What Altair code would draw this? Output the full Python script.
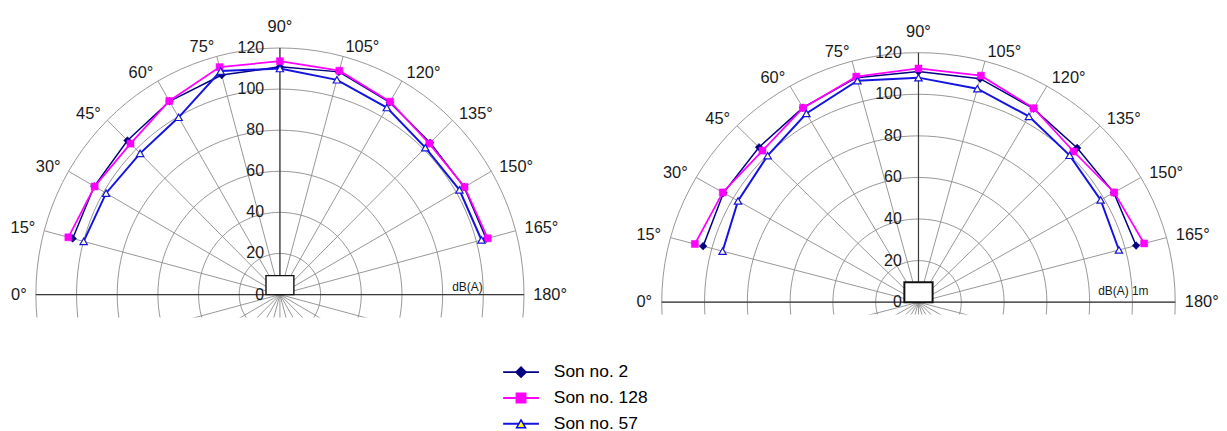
import altair as alt
import pandas as pd

# ---------------- data ----------------
angles = [15, 30, 45, 60, 75, 90, 105, 120, 135, 150, 165]
series_names = ["Son no. 2", "Son no. 128", "Son no. 57"]
series_colors = ["#000080", "#FF00FF", "#1414E0"]
legend_colors = ["#000080", "#FF00FF", "#0000FF"]

left_son2 = [105.5, 105.4, 106.0, 108.6, 110.6, 110.9, 112.2, 108.0, 104.5, 104.6, 105.0]
left_son128 = [107.7, 105.2, 103.9, 108.8, 114.6, 113.6, 112.8, 108.4, 103.9, 104.8, 105.8]
left_son57 = [99.9, 98.7, 97.2, 99.6, 112.6, 110.0, 108.2, 105.1, 101.1, 101.9, 102.6]

right_son2 = [104.2, 105.2, 105.4, 108.0, 111.8, 110.9, 111.3, 107.5, 104.9, 105.4, 105.3]
right_son128 = [108.2, 105.6, 103.1, 107.9, 112.3, 112.4, 112.8, 107.7, 102.5, 105.6, 109.2]
right_son57 = [94.8, 97.4, 99.7, 104.8, 110.3, 108.0, 106.3, 103.2, 99.9, 98.3, 97.0]

ring_values = [20, 40, 60, 80, 100, 120]
spoke_angles = list(range(0, 360, 15))
axis_angles = [0, 90, 180]
angle_ticks = list(range(0, 181, 15))
radial_ticks = [0, 20, 40, 60, 80, 100, 120]
ring_sample_angles = list(range(0, 361, 3))
unit_texts = ["dB(A)", "dB(A) 1m"]
box_half_widths = [6.85, 6.6]
box_heights = [9.2, 9.6]
legend_rows = [0, 1, 2]

FONT = "Liberation Sans"
TXT = "#1a1a1a"
GRID = "#8c8c8c"


def polar(chart, r, a):
    return chart.transform_calculate(
        x=f"-({r}) * cos(({a}) * PI / 180)",
        y=f"({r}) * sin(({a}) * PI / 180)",
    )


def panel(vals, xdom, ydom, w, h, unit_text, unit_x, unit_y, bhw, bh, box_sw):
    xs = alt.Scale(domain=xdom, nice=False, zero=False)
    ys = alt.Scale(domain=ydom, nice=False, zero=False)

    def X(f="x"):
        return alt.X(f"{f}:Q", scale=xs, axis=None)

    def Y(f="y"):
        return alt.Y(f"{f}:Q", scale=ys, axis=None)

    rings = pd.DataFrame(
        [{"ring": r, "t": t} for r in ring_values for t in ring_sample_angles]
    )
    ring_layer = polar(alt.Chart(rings), "datum.ring", "datum.t").mark_line(
        stroke=GRID, strokeWidth=0.9, clip=True
    ).encode(x=X(), y=Y(), detail="ring:N", order="t:Q")

    spokes = pd.DataFrame({"a": spoke_angles})
    spoke_layer = (
        alt.Chart(spokes)
        .transform_calculate(
            x0="0", y0="0",
            x="-120 * cos(datum.a * PI / 180)",
            y="120 * sin(datum.a * PI / 180)",
        )
        .mark_rule(stroke=GRID, strokeWidth=0.9, clip=True)
        .encode(x=X("x0"), y=Y("y0"), x2="x:Q", y2="y:Q")
    )

    axes = pd.DataFrame({"a": axis_angles})
    axis_layer = (
        alt.Chart(axes)
        .transform_calculate(
            x0="0", y0="0",
            x="-120 * cos(datum.a * PI / 180)",
            y="120 * sin(datum.a * PI / 180)",
        )
        .mark_rule(stroke="#3a3a3a", strokeWidth=1.2, clip=True)
        .encode(x=X("x0"), y=Y("y0"), x2="x:Q", y2="y:Q")
    )

    box = pd.DataFrame({"hw": [bhw], "h": [bh]})
    box_layer = (
        alt.Chart(box)
        .transform_calculate(x="-datum.hw", x2="datum.hw", y="0", y2="datum.h")
        .mark_rect(fill="white", stroke="#111111", strokeWidth=box_sw)
        .encode(x=X("x"), x2="x2:Q", y=Y("y"), y2="y2:Q")
    )

    rows = []
    for name, v in zip(series_names, vals):
        for a, val in zip(angles, v):
            rows.append({"series": name, "angle": a, "value": val})
    sdf = pd.DataFrame(rows)
    base = polar(alt.Chart(sdf), "datum.value", "datum.angle")

    line_layer = base.mark_line().encode(
        x=X(), y=Y(),
        color=alt.Color("series:N", scale=alt.Scale(domain=series_names, range=series_colors), legend=None),
        strokeWidth=alt.StrokeWidth("series:N", scale=alt.Scale(domain=series_names, range=[1.5, 2.0, 1.4]), legend=None),
        order="angle:Q",
    )
    pts2 = base.transform_filter(alt.datum.series == series_names[0]).mark_point(
        shape="diamond", size=60, filled=True, fill="#000080", stroke="#000080", strokeWidth=0.5, opacity=1
    ).encode(x=X(), y=Y())
    pts128 = base.transform_filter(alt.datum.series == series_names[1]).mark_point(
        shape="square", size=50, filled=True, fill="#FF00FF", stroke="#FF00FF", strokeWidth=0.5, opacity=1
    ).encode(x=X(), y=Y())
    pts57 = base.transform_filter(alt.datum.series == series_names[2]).mark_point(
        shape="triangle-up", size=55, filled=True, fill="#FFFFCC", stroke="#1414E0", strokeWidth=1.2, opacity=1
    ).encode(x=X(), y=Y())

    ticks = pd.DataFrame({"a": angle_ticks})
    ticks["label"] = ticks["a"].astype(str) + "°"

    def angle_text(cond, align, radius):
        return (
            polar(alt.Chart(ticks).transform_filter(cond), str(radius), "datum.a")
            .mark_text(align=align, baseline="middle", font=FONT, fontSize=16.5, color=TXT)
            .encode(x=X(), y=Y(), text="label:N")
        )

    lab_left = angle_text("datum.a < 90", "right", 124.5)
    lab_mid = angle_text("datum.a == 90", "center", 130)
    lab_right = angle_text("datum.a > 90", "left", 124.5)

    rt = pd.DataFrame({"v": radial_ticks})
    rad_text = (
        alt.Chart(rt)
        .transform_calculate(x="-7.8", y="datum.v", label="datum.v + ''")
        .mark_text(align="right", baseline="middle", font=FONT, fontSize=16, color=TXT)
        .encode(x=X(), y=Y(), text="label:N")
    )

    ut = pd.DataFrame({"t": [unit_text], "ux": [unit_x], "uy": [unit_y]})
    unit_layer = (
        alt.Chart(ut)
        .mark_text(align="right", baseline="middle", font=FONT, fontSize=12, color=TXT)
        .encode(x=X("ux"), y=Y("uy"), text="t:N")
    )

    layers = [ring_layer, spoke_layer, axis_layer, box_layer, line_layer,
              pts2, pts128, pts57, lab_left, lab_mid, lab_right, rad_text, unit_layer]
    return alt.layer(*layers).properties(width=w, height=h)


left = panel(
    [left_son2, left_son128, left_son57],
    [-133.7, 155.7], [-11.13, 138.87], 592, 310,
    unit_texts[0], 99.7, 3.9, box_half_widths[0], box_heights[0], 1.4,
)
right = panel(
    [right_son2, right_son128, right_son57],
    [-136.5, 137.2], [-5.89, 140.9], 589, 307,
    unit_texts[1], 107.5, 5.6, box_half_widths[1], box_heights[1], 2.0,
)

# ---------------- legend panel (drawn with marks) ----------------
LW, LH = 700, 66
lxs = alt.Scale(domain=[0, LW], nice=False, zero=False)
lys = alt.Scale(domain=[0, LH], nice=False, zero=False, reverse=True)
ldf = pd.DataFrame({"series": series_names, "row": legend_rows})
lbase = alt.Chart(ldf).transform_calculate(
    yy="15 + 26 * datum.row", x0="498", x1="534", xm="516", xt="549"
)
lcol = alt.Color("series:N", scale=alt.Scale(domain=series_names, range=legend_colors), legend=None)
leg_rule = lbase.mark_rule(strokeWidth=2).encode(
    x=alt.X("x0:Q", scale=lxs, axis=None), x2="x1:Q",
    y=alt.Y("yy:Q", scale=lys, axis=None), color=lcol,
)
LX = alt.X("xm:Q", scale=lxs, axis=None)
LY = alt.Y("yy:Q", scale=lys, axis=None)
leg_d = lbase.transform_filter(alt.datum.row == 0).mark_point(
    shape="diamond", size=90, filled=True, fill="#000080", stroke="#000080", opacity=1
).encode(x=LX, y=LY)
leg_s = lbase.transform_filter(alt.datum.row == 1).mark_point(
    shape="square", size=80, filled=True, fill="#FF00FF", stroke="#FF00FF", opacity=1
).encode(x=LX, y=LY)
leg_t = lbase.transform_filter(alt.datum.row == 2).mark_point(
    shape="triangle-up", size=80, filled=True, fill="#FFFF00", stroke="#0000FF", strokeWidth=1.5, opacity=1
).encode(x=LX, y=LY)
leg_text = lbase.mark_text(align="left", baseline="middle", font=FONT, fontSize=17.5, color="#000000").encode(
    x=alt.X("xt:Q", scale=lxs, axis=None), y=LY, text="series:N"
)
legend_panel = alt.layer(leg_rule, leg_d, leg_s, leg_t, leg_text).properties(width=LW, height=LH)

top = alt.hconcat(left, right, spacing=30)
chart = (
    alt.vconcat(top, legend_panel, spacing=40)
    .properties(padding=0)
    .configure_view(stroke=None)
)

chart.save("out.html", embed_options={"renderer": "svg", "actions": False})
